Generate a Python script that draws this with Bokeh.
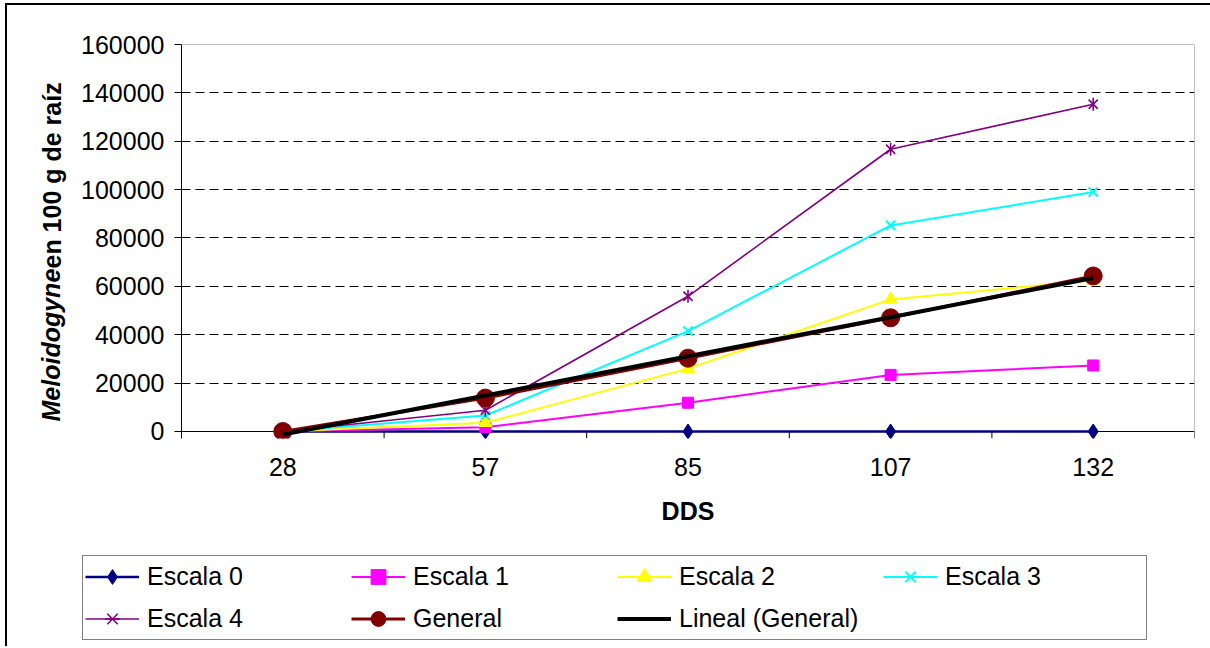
import numpy as np
from bokeh.plotting import figure
from bokeh.layouts import column
from bokeh.models import (Range1d, FixedTicker, Legend, LegendItem, Span, Label,
                          NumeralTickFormatter)
from bokeh.embed import file_html
from bokeh.resources import INLINE

# ---------------- data ----------------
categories = ["28", "57", "85", "107", "132"]
escala_0 = [0, 0, 0, 0, 0]
escala_1 = [0, 1800, 11900, 23400, 27300]
escala_2 = [0, 3600, 26000, 54600, 62500]
escala_3 = [0, 6600, 41500, 85200, 99000]
escala_4 = [0, 8800, 55900, 116700, 135300]
general = [0, 13800, 30300, 47000, 64300]
y_ticks = [0, 20000, 40000, 60000, 80000, 100000, 120000, 140000, 160000]
series_names = ["Escala 0", "Escala 1", "Escala 2", "Escala 3", "Escala 4", "General"]
trend_name = "Lineal (General)"
x_title = "DDS"
y_title_italic = "Meloidogyne"
y_title_rest = "en 100 g de raíz"

FONT = "Liberation Sans"
FS = "25px"

x = list(range(1, len(categories) + 1))
slope, intercept = np.polyfit(x, general, 1)
trend = [float(slope * xi + intercept) for xi in x]

p = figure(frame_width=1013, frame_height=394,
           min_border_left=174, min_border_right=16,
           min_border_top=39, min_border_bottom=100,
           x_range=Range1d(0.5, len(categories) + 0.5),
           y_range=Range1d(-2900, y_ticks[-1]),
           output_backend="svg", toolbar_location=None,
           background_fill_color="white", border_fill_color="white",
           outline_line_color=None)

# x axis
xa = p.xaxis[0]
xa.ticker = FixedTicker(ticks=x)
xa.major_label_overrides = {i: c for i, c in zip(x, categories)}
xa.axis_line_color = None
xa.major_tick_line_color = None
xa.minor_tick_line_color = None
xa.major_tick_out = 0
xa.major_tick_in = 0
xa.minor_tick_out = 0
xa.minor_tick_in = 0
xa.major_label_standoff = 19
xa.major_label_text_font = FONT
xa.major_label_text_font_size = FS
xa.major_label_text_color = "black"
xa.axis_label = x_title
xa.axis_label_text_font = FONT
xa.axis_label_text_font_size = FS
xa.axis_label_text_font_style = "bold"
xa.axis_label_text_color = "black"
xa.axis_label_standoff = 18

# y axis
ya = p.yaxis[0]
ya.ticker = FixedTicker(ticks=y_ticks)
ya.formatter = NumeralTickFormatter(format="0")
ya.axis_line_color = "black"
ya.axis_line_width = 1
ya.major_tick_line_color = "black"
ya.major_tick_out = 7
ya.major_tick_in = 0
ya.minor_tick_line_color = None
ya.major_label_standoff = 10
ya.major_label_text_font = FONT
ya.major_label_text_font_size = FS
ya.major_label_text_color = "black"

# grid
p.xgrid.visible = False
p.ygrid.ticker = FixedTicker(ticks=y_ticks[1:-1])
p.ygrid.grid_line_color = "black"
p.ygrid.grid_line_dash = "9 5"
p.ygrid.grid_line_width = 1

# x axis line at zero and boundary ticks
bounds = [i + 0.5 for i in range(len(categories) + 1)]
p.segment(x0=[bounds[0]], y0=[0], x1=[bounds[-1]], y1=[0], line_color="black", line_width=1)
p.segment(x0=bounds, y0=[0] * len(bounds), x1=bounds, y1=[-2900] * len(bounds),
          line_color="black", line_width=1)

# plot area border (top/right)
p.add_layout(Span(location=y_ticks[-1], dimension="width", line_color="#808080", line_width=1))
p.add_layout(Span(location=len(categories) + 0.5, dimension="height", line_color="#808080", line_width=1))

styles = [
    (escala_0, "#000080", "diamond", 15, 2.5),
    (escala_1, "#FF00FF", "square", 11, 2),
    (escala_2, "#FFFF00", "triangle", 13, 2),
    (escala_3, "#00FFFF", "x", 13, 2),
    (escala_4, "#800080", "star6", 13, 1.6),
    (general, "#800000", "circle", 18, 3),
]

# legend figure (separate canvas below the chart)
q = figure(frame_width=1203, frame_height=108, min_border=0,
           x_range=Range1d(0, 1), y_range=Range1d(0, 1),
           x_axis_location=None, y_axis_location=None,
           output_backend="svg", toolbar_location=None,
           background_fill_color="white", border_fill_color="white",
           outline_line_color=None)
q.grid.visible = False


def draw(fig, xs, vals, color, marker, size, lw):
    rs = [fig.line(xs, vals, line_color=color, line_width=lw)]
    if marker == "star6":
        rs.append(fig.scatter(xs, vals, marker="x", size=size, line_color=color, line_width=1.6))
        rs.append(fig.scatter(xs, vals, marker="dash", size=size, angle=np.pi / 2,
                              line_color=color, line_width=1.6))
    else:
        mlw = 2 if marker == "x" else 1
        rs.append(fig.scatter(xs, vals, marker=marker, size=size, fill_color=color,
                              line_color=color, line_width=mlw))
    return rs


# legend proxies live outside the legend canvas' visible range
proxy_x = [-10, -9]
proxy_y = [-10, -9]

items = []
for name, (vals, color, marker, size, lw) in zip(series_names, styles):
    draw(p, x, vals, color, marker, size, lw)
    rs = draw(q, proxy_x, proxy_y, color, marker, size, lw)
    items.append(LegendItem(label=name, renderers=rs))

p.line(x, trend, line_color="black", line_width=4)
rt = q.line(proxy_x, proxy_y, line_color="black", line_width=4)
items.append(LegendItem(label=trend_name, renderers=[rt]))

legend = Legend(items=items, location=(75, 6), orientation="horizontal", ncols=4,
                glyph_width=54, glyph_height=37, label_height=37, label_width=199,
                label_standoff=8, spacing=5, padding=2, margin=0,
                label_text_font=FONT, label_text_font_size=FS, label_text_color="black",
                border_line_color="black", border_line_width=1,
                background_fill_color="white", background_fill_alpha=1)
q.add_layout(legend)

# y axis title (mixed italic/bold)
p.add_layout(Label(x=0, y=17, x_units="screen", y_units="screen", text=y_title_italic,
                   angle=np.pi / 2, text_align="left", text_baseline="middle",
                   text_font=FONT, text_font_size=FS, text_font_style="bold italic",
                   text_color="black"), "left")
p.add_layout(Label(x=29, y=170, x_units="screen", y_units="screen", text=y_title_rest,
                   angle=np.pi / 2, text_align="left", text_baseline="middle",
                   text_font=FONT, text_font_size=FS, text_font_style="bold",
                   text_color="black"), "left")

layout = column(p, q, spacing=0,
                styles={"border-left": "2px solid #000", "border-top": "2px solid #000",
                        "margin-left": "5px", "margin-top": "3px"})

open("out.html", "w").write(file_html(layout, INLINE))
